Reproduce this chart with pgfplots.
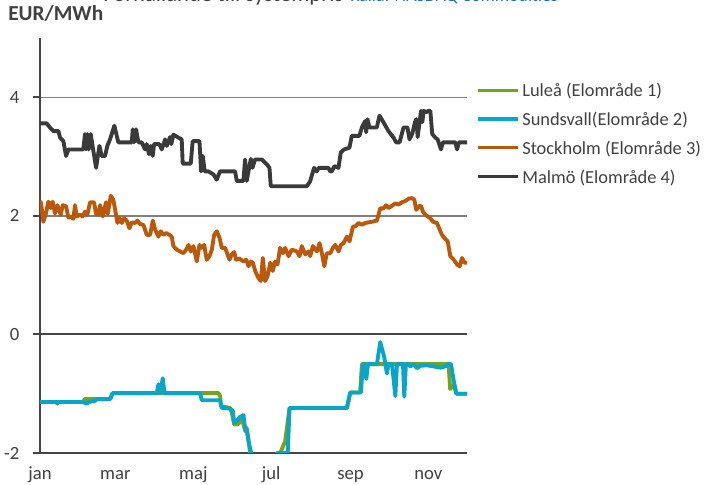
\documentclass[border=0pt]{standalone}
\usepackage{pgfplots}
\pgfplotsset{compat=1.18}
\usepackage{fontspec}
\setmainfont{Carlito}
\definecolor{lulea}{RGB}{119,163,26}
\definecolor{sundsvall}{RGB}{8,165,203}
\definecolor{stockholm}{RGB}{188,88,10}
\definecolor{malmo}{RGB}{58,58,58}
\definecolor{txt}{RGB}{64,64,64}
\definecolor{axisc}{RGB}{70,70,70}
\definecolor{gridc}{RGB}{128,128,128}
\definecolor{srcblue}{RGB}{31,111,181}
\begin{document}
\begin{tikzpicture}
\path[use as bounding box] (0,0) rectangle (528pt,363.75pt);
\node[anchor=base west, inner sep=0pt, font=\fontsize{17}{20}\selectfont, text=txt] at (77.25pt,362.5pt) {Förhållande till systempris};
\node[anchor=base west, inner sep=0pt, font=\fontsize{13.4}{16}\selectfont, text=srcblue] at (262.5pt,362.5pt) {Källa: NASDAQ Commodities};
\node[anchor=base west, inner sep=0pt, font=\bfseries\fontsize{16}{19}\selectfont, text=txt] at (6pt,348pt) {EUR/MWh};
\begin{axis}[
  at={(30pt,24pt)}, anchor=south west,
  width=320.25pt, height=311.25pt, scale only axis,
  xmin=0, xmax=334.2, ymin=-2, ymax=5,
  axis x line*=bottom, axis y line*=left,
  axis line style={draw=axisc, line width=1.5pt, -},
  xtick={0,59,120,181,243,304}, xticklabels={jan,mar,maj,jul,sep,nov},
  ytick={-2,0,2,4}, yticklabels={-2,0,2,4},
  x tick style={draw=none},
  y tick style={draw=axisc, line width=1.5pt},
  tick align=outside, major tick length=5.25pt,
  ymajorgrids, grid style={draw=gridc, line width=1.1pt},
  extra y ticks={-2,0}, extra y tick labels={},
  extra y tick style={grid style={draw=axisc, line width=1.6pt}},
  tick label style={font=\fontsize{14}{16}\selectfont, text=txt, inner sep=0pt},
  xticklabel style={anchor=base, yshift=-15pt},
  yticklabel style={anchor=east, xshift=-10pt},
  legend style={at={(axis description cs:1.021,0.8915)}, anchor=north west,
    draw=none, fill=none, inner sep=0pt, column sep=2.25pt, row sep=8.6pt,
    font=\fontsize{13.8}{16}\selectfont, text=txt,
    nodes={inner sep=0pt, text height=10pt, text depth=3pt}},
  legend cell align=left,
  legend image code/.code={\draw[#1, line width=2.3pt] (0pt,1.3pt) -- (30pt,1.3pt);},
  every axis plot/.append style={line width=2.9pt, line join=round},
]
\addplot[lulea] coordinates {
(0,-1.14) (33.9,-1.14) (35,-1.09) (54.8,-1.09) (56.9,-0.99) (139.7,-0.99) (141.0,-1.04) (141.5,-1.21) (148.8,-1.24) (150.1,-1.32) (152.0,-1.52) (155.4,-1.51) (158.0,-1.41) (160.6,-1.63) (161.9,-1.58) (164.5,-2.0) (170,-2.6) (182,-2.6) (185.4,-2.0) (188.0,-2.0) (191.9,-1.80) (195.3,-1.24) (240.2,-1.24) (242.8,-0.98) (250.5,-0.98) (252.0,-0.50) (319.8,-0.50) (321.0,-0.92) (323.8,-0.85) (325.9,-1.00) (334.2,-1.00)
};
\addlegendentry{Luleå (Elområde 1)}
\addplot[sundsvall] coordinates {
(0,-1.14) (13.1,-1.14) (13.6,-1.17) (14.4,-1.14) (33.9,-1.14) (36.6,-1.17) (37.9,-1.14) (43.1,-1.12) (44.4,-1.09) (54.8,-1.09) (56.9,-0.99) (91.4,-0.99) (92.7,-0.84) (94.0,-0.99) (96.1,-0.74) (97.4,-0.99) (125.3,-0.99) (126.6,-1.11) (141.0,-1.11) (142.3,-1.24) (148.8,-1.25) (150.9,-1.29) (152.0,-1.49) (154.0,-1.46) (156.1,-1.40) (159.3,-1.36) (160.6,-1.60) (161.9,-1.63) (163.2,-1.80) (165.8,-2.05) (170,-2.6) (182,-2.6) (185.4,-2.0) (193.9,-2.0) (195.3,-1.24) (240.2,-1.24) (242.8,-0.98) (251.2,-0.98) (252.7,-0.50) (254.0,-0.50) (255.4,-0.75) (256.7,-0.50) (263.7,-0.50) (266.3,-0.13) (269.5,-0.39) (271.5,-0.66) (272.8,-0.50) (275.5,-0.50) (278.1,-1.04) (279.4,-0.50) (284.1,-0.50) (285.1,-1.05) (286.4,-0.50) (288.5,-0.50) (289.8,-0.54) (292.4,-0.50) (295.0,-0.57) (297.7,-0.53) (302.9,-0.52) (308.1,-0.54) (313.3,-0.56) (317.2,-0.54) (319.8,-0.50) (321.7,-0.50) (323.8,-0.78) (325.9,-1.00) (334.2,-1.00)
};
\addlegendentry{Sundsvall(Elområde 2)}
\addplot[stockholm] coordinates {
(0,2.20) (0.8,2.23) (2.6,1.90) (4.7,2.04) (6.5,2.24) (8.4,2.13) (9.9,2.24) (11.7,2.04) (13.6,2.18) (16.2,2.02) (17.8,2.18) (20.4,2.16) (22.2,1.97) (24.0,1.99) (26.1,1.95) (27.4,2.18) (28.7,1.99) (31.3,2.02) (33.4,1.99) (35.2,2.07) (37.1,2.02) (39.2,2.23) (42.3,2.23) (43.9,2.03) (45.7,2.02) (47.0,2.18) (49.1,1.99) (51.7,2.23) (53.0,2.03) (55.4,2.34) (57.4,2.27) (59.5,2.02) (60.6,1.88) (62.1,1.97) (64.0,1.88) (65.8,1.96) (67.9,1.92) (70.0,1.79) (71.8,1.89) (74.4,1.88) (76.2,1.92) (78.3,1.86) (80.9,1.85) (83.6,1.68) (86.2,1.68) (88.3,1.92) (90.1,1.77) (92.7,1.65) (94.5,1.74) (96.6,1.68) (98.7,1.71) (101.3,1.68) (103.1,1.65) (104.4,1.49) (107.0,1.43) (109.7,1.40) (112.3,1.37) (114.4,1.43) (116.2,1.51) (118.0,1.40) (120.1,1.49) (122.7,1.23) (124.8,1.51) (126.6,1.46) (128.5,1.51) (130.5,1.26) (132.6,1.32) (134.5,1.43) (136.3,1.68) (138.4,1.74) (140.5,1.63) (142.3,1.46) (144.9,1.46) (148.3,1.26) (150.1,1.35) (152.0,1.39) (153.5,1.26) (156.1,1.28) (159.3,1.23) (161.4,1.26) (163.2,1.15) (165.0,1.23) (166.6,1.21) (168.4,1.07) (171.0,0.95) (172.8,0.90) (174.4,1.29) (176.2,0.90) (178.1,0.98) (180.2,1.21) (182.2,1.07) (184.0,1.23) (185.9,1.18) (187.9,1.46) (190.1,1.37) (191.9,1.46) (194.5,1.32) (197.1,1.43) (201.0,1.40) (203.1,1.32) (204.9,1.49) (207.6,1.35) (210.2,1.40) (211.5,1.32) (213.6,1.49) (216.7,1.40) (218.8,1.54) (220.6,1.37) (222.5,1.15) (224.5,1.37) (227.2,1.37) (229.2,1.46) (231.1,1.51) (233.7,1.40) (235.5,1.51) (237.6,1.54) (240.2,1.65) (242.3,1.57) (244.9,1.82) (246.7,1.82) (249.3,1.88) (252.0,1.85) (254.6,1.88) (257.2,1.89) (259.8,1.90) (263.7,1.92) (266.3,2.13) (268.4,2.12) (271.0,2.18) (272.8,2.13) (275.5,2.17) (278.1,2.21) (280.7,2.19) (283.3,2.23) (285.9,2.25) (288.6,2.29) (291.2,2.30) (293.0,2.27) (294.5,2.10) (296.4,2.16) (298.2,2.17) (299.7,2.07) (301.6,2.02) (303.4,1.99) (305.5,1.96) (307.6,1.90) (310.7,1.88) (312.8,1.77) (314.6,1.68) (316.4,1.63) (319.1,1.57) (321.1,1.32) (323.8,1.26) (326.4,1.18) (328.5,1.15) (330.3,1.29) (332.1,1.21) (334.2,1.21)
};
\addlegendentry{Stockholm (Elområde 3)}
\addplot[malmo] coordinates {
(0,3.56) (5.2,3.56) (7.8,3.49) (10.4,3.43) (14.4,3.43) (15.7,3.32) (18.3,3.26) (20.4,3.01) (22.2,3.12) (33.9,3.12) (35.2,3.38) (36.0,3.12) (37.1,3.38) (38.1,3.12) (39.7,3.38) (41.8,3.09) (43.9,2.81) (46.5,3.18) (48.3,3.01) (50.9,3.01) (52.7,3.18) (54.8,3.29) (58.2,3.52) (61.3,3.24) (71.8,3.24) (72.6,3.46) (73.6,3.24) (75.2,3.46) (77.0,3.24) (79.6,3.24) (82.2,3.12) (83.5,3.21) (85.3,3.04) (86.7,3.18) (88.2,3.01) (89.3,3.21) (93.4,3.21) (95.3,3.12) (97.9,3.29) (99.2,3.18) (101.8,3.33) (102.8,3.21) (104.4,3.37) (108.3,3.32) (110.9,3.29) (111.7,2.88) (118.0,2.88) (119.5,3.26) (124.8,3.26) (126.1,2.75) (127.4,3.01) (128.9,2.75) (131.8,2.75) (135.7,2.70) (138.3,2.61) (140.9,2.75) (152.7,2.75) (154.0,2.59) (159.2,2.59) (160.5,2.95) (161.8,2.59) (165.0,2.96) (166.3,2.81) (168.3,2.95) (173.6,2.95) (177.5,2.87) (179.6,2.81) (180.6,2.50) (208.8,2.50) (211.4,2.58) (214.5,2.81) (216.6,2.75) (218.2,2.81) (225.8,2.81) (227.1,2.75) (228.4,2.75) (230.5,2.84) (233.6,2.81) (235.4,3.07) (238.0,3.12) (242.2,3.15) (244.0,3.35) (250.0,3.35) (251.9,3.49) (254.5,3.60) (255.3,3.41) (256.3,3.63) (257.9,3.49) (263.6,3.49) (265.7,3.69) (268.8,3.58) (272.7,3.43) (276.7,3.32) (278.7,3.24) (281.4,3.24) (284.5,3.49) (287.6,3.49) (289.2,3.29) (291.3,3.38) (293.5,3.58) (294.5,3.63) (295.6,3.33) (298.2,3.77) (299.2,3.58) (300.3,3.77) (302.3,3.75) (303.9,3.77) (305.5,3.77) (307.0,3.38) (309.4,3.32) (311.2,3.29) (313.8,3.12) (315.4,3.24) (325.1,3.24) (326.4,3.12) (327.9,3.24) (334.2,3.24)
};
\addlegendentry{Malmö (Elområde 4)}
\end{axis}
\end{tikzpicture}
\end{document}
